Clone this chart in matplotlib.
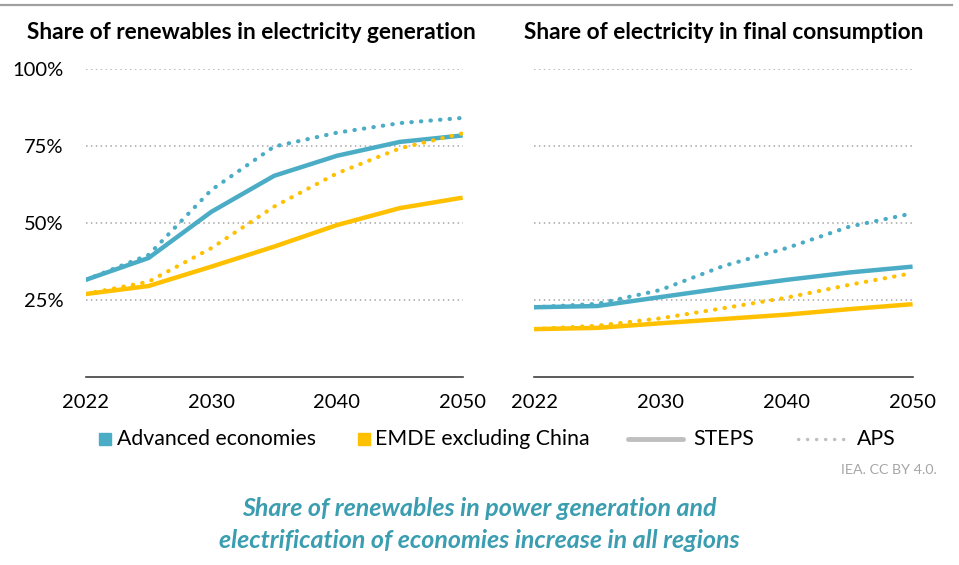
import matplotlib
matplotlib.use("Agg")
import matplotlib.pyplot as plt
from matplotlib.lines import Line2D

plt.rcParams['font.family'] = ['Lato', 'DejaVu Sans']

years = [2022, 2025, 2030, 2035, 2040, 2045, 2050]
tick_years = ["2022", "2030", "2040", "2050"]

# share of renewables in electricity generation (%)
ren_adv_steps = [31.5, 38.6, 53.6, 65.3, 71.8, 76.3, 78.4]
ren_adv_aps = [31.5, 39.6, 60.7, 74.8, 79.3, 82.4, 84.1]
ren_emde_steps = [26.9, 29.5, 35.8, 42.3, 49.3, 54.8, 58.2]
ren_emde_aps = [26.9, 30.9, 41.8, 55.3, 66.1, 74.2, 79.1]

# share of electricity in final consumption (%)
ele_adv_steps = [22.6, 23.0, 25.9, 28.8, 31.5, 33.9, 35.8]
ele_adv_aps = [22.6, 23.7, 28.2, 36.0, 41.8, 48.8, 53.1]
ele_emde_steps = [15.5, 15.9, 17.4, 18.8, 20.2, 22.0, 23.6]
ele_emde_aps = [15.5, 16.6, 19.0, 22.3, 25.7, 29.9, 33.7]

teal = "#4BACC6"
gold = "#FFC000"
dotted = (0, (0.1, 2.2))

fig = plt.figure(figsize=(9.59, 5.65), dpi=100)
ax1 = fig.add_axes([0.0894, 0.333, 0.393, 0.545])
ax2 = fig.add_axes([0.557, 0.333, 0.3946, 0.545])

pos = list(range(len(years)))

panels = [
    (ax1, "Share of renewables in electricity generation", 0.44,
     ren_adv_steps, ren_adv_aps, ren_emde_steps, ren_emde_aps, True),
    (ax2, "Share of electricity in final consumption", 0.5,
     ele_adv_steps, ele_adv_aps, ele_emde_steps, ele_emde_aps, False),
]

for ax, title, tx, a_s, a_a, e_s, e_a, show_y in panels:
    for yv in [25, 50, 75, 100]:
        ax.axhline(yv, color="#A6A6A6", lw=1.1, ls=(0, (1, 2.2)), zorder=1)
    ax.plot(pos, e_s, color=gold, lw=3.2, solid_capstyle="butt", zorder=3)
    ax.plot(pos, a_s, color=teal, lw=3.2, solid_capstyle="butt", zorder=3)
    ax.plot(pos, e_a, color=gold, lw=3, ls=dotted, dash_capstyle="round", zorder=4)
    ax.plot(pos, a_a, color=teal, lw=3, ls=dotted, dash_capstyle="round", zorder=4)
    ax.set_xlim(0, 6)
    ax.set_ylim(0, 100)
    ax.set_xticks([0, 2, 4, 6])
    ax.set_xticklabels(tick_years)
    ax.set_yticks([25, 50, 75, 100])
    if show_y:
        ax.set_yticklabels(["25%", "50%", "75%", "100%"])
    else:
        ax.set_yticklabels([])
    ax.tick_params(length=0, labelsize=14.5, colors="black", pad=12)
    ax.tick_params(axis="y", pad=16)
    for s in ["top", "right", "left"]:
        ax.spines[s].set_visible(False)
    ax.spines["bottom"].set_color("#404040")
    ax.spines["bottom"].set_linewidth(1.2)
    ax.text(tx, 1.0 + 21.5 / 0.545 / 565 * 100 / 72, title, transform=ax.transAxes,
            fontsize=16.3, fontweight="bold", ha="center", va="baseline")

# top rule
fig.add_artist(Line2D([0.0, 0.993], [0.991, 0.991], color="#A0A0A0", lw=1.6))

# legend row
ly = 1 - 439 / 565
fs = 15.3
fig.add_artist(Line2D([104.5 / 959], [ly], marker="s", ms=9, color=teal, ls="none"))
fig.text(117 / 959, ly, "Advanced economies", fontsize=fs, va="center")
fig.add_artist(Line2D([363.5 / 959], [ly], marker="s", ms=9, color=gold, ls="none"))
fig.text(375 / 959, ly, "EMDE excluding China", fontsize=fs, va="center")
fig.add_artist(Line2D([628 / 959, 683 / 959], [ly, ly], color="#BFBFBF", lw=3.5,
                      solid_capstyle="round"))
fig.text(693 / 959, ly, "STEPS", fontsize=fs, va="center")
fig.add_artist(Line2D([798 / 959, 847 / 959], [ly, ly], color="#BFBFBF", lw=2.4,
                      ls=(0, (0.1, 2.6)), dash_capstyle="round"))
fig.text(857 / 959, ly, "APS", fontsize=fs, va="center")

fig.text(937 / 959, 1 - 470 / 565, "IEA. CC BY 4.0.", fontsize=10.3, color="#A6A6A6",
         ha="right", va="center")

fig.text(479 / 959, 1 - 508 / 565, "Share of renewables in power generation and",
         fontsize=18, style="italic", fontweight="bold", color="#3A9DB0",
         ha="center", va="center")
fig.text(479 / 959, 1 - 540 / 565, "electrification of economies increase in all regions",
         fontsize=18, style="italic", fontweight="bold", color="#3A9DB0",
         ha="center", va="center")

fig.savefig("out.png", dpi=100)
